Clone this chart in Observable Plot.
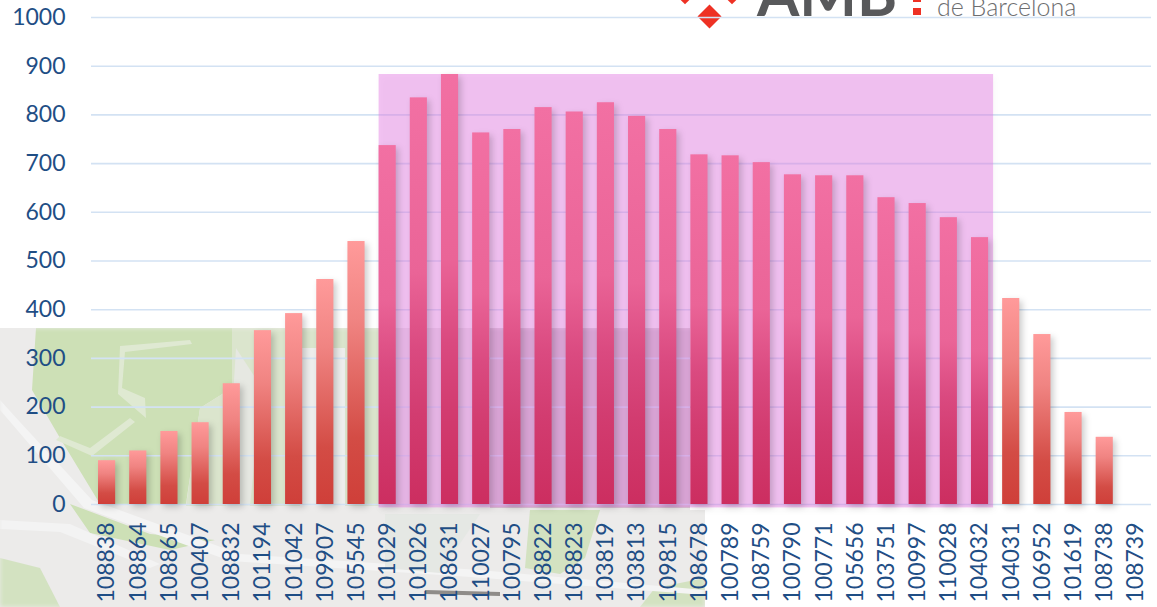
<!DOCTYPE html>
<html>
<head>
<meta charset="utf-8">
<script src="https://cdn.jsdelivr.net/npm/d3@7"></script>
<script src="https://cdn.jsdelivr.net/npm/@observablehq/plot@0.6"></script>
<style>
html,body{margin:0;padding:0;background:#fff;width:1157px;height:607px;overflow:hidden}
#map{position:absolute;left:0;top:328px;width:705px;height:279px;background:#ecebea;overflow:hidden;
  clip-path:polygon(0 0,690px 0,690px 182px,705px 182px,705px 279px,0 279px)}
#map div{position:absolute;inset:0;filter:blur(2px)}
#logo{position:absolute;left:0;top:0;width:1157px;height:40px;overflow:hidden}
#logo span{position:absolute;white-space:nowrap;line-height:1}
#logo i{position:absolute;display:block;background:#ee3124;transform:rotate(45deg)}
#chart{position:absolute;left:0;top:0}
svg{background:transparent!important;display:block}
</style>
</head>
<body>
<div id="map">
  <div style="background:#cde0b6;clip-path:polygon(36px 0,232px 0,232px 60px,200px 80px,186px 176px,100px 176px,60px 110px,32px 62px)"></div>
  <div style="background:#dbe5cd;clip-path:polygon(232px 0,380px 0,380px 178px,186px 178px,200px 80px,232px 60px)"></div>
  <div style="background:#dfe9d2;clip-path:polygon(120px 18px,190px 12px,192px 16px,125px 24px,122px 60px,145px 70px,146px 90px,118px 66px)"></div>
  <div style="background:#dfe9d2;clip-path:polygon(60px 108px,90px 120px,130px 90px,135px 94px,92px 128px,56px 112px)"></div>
  <div style="background:#e6e8e2;clip-path:polygon(236px 20px,262px 60px,250px 178px,226px 178px)"></div>
  <div style="background:#eeeeed;clip-path:polygon(300px 20px,345px 20px,345px 178px,300px 178px)"></div>
  <div style="background:#d3cacc;clip-path:polygon(490px 0,690px 0,690px 180px,490px 180px)"></div>
  <div style="background:#d3e2c1;clip-path:polygon(530px 182px,600px 182px,585px 230px,560px 246px,525px 240px)"></div>
  <div style="background:#d3e2c1;clip-path:polygon(655px 260px,705px 250px,705px 279px,640px 279px)"></div>
  <div style="background:#d3e2c1;clip-path:polygon(0 230px,40px 240px,60px 279px,0 279px)"></div>
  <div style="background:#cde0b6;clip-path:polygon(70px 176px,150px 206px,215px 212px,170px 222px,90px 205px)"></div>
  <div style="background:#f4f4f4;clip-path:polygon(0 72px,20px 94px,92px 172px,240px 226px,480px 242px,705px 262px,705px 267px,470px 249px,230px 233px,84px 180px,0 82px)"></div>
  <div style="background:#f3f3f3;clip-path:polygon(0 192px,70px 196px,160px 236px,150px 240px,60px 204px,0 201px)"></div>
  <div style="background:#e5e8e4;clip-path:polygon(385px 186px,480px 186px,440px 245px,385px 240px)"></div>
  <div style="background:#8f8c89;filter:blur(.8px);clip-path:polygon(425px 262px,500px 264px,500px 268px,425px 266px)"></div>
</div>
<div id="logo">
  <i style="left:677px;top:-15px;width:16px;height:16px"></i>
  <i style="left:724px;top:-15px;width:16px;height:16px"></i>
  <i style="left:700.5px;top:7.5px;width:17px;height:17px"></i>
  <span style="left:757px;top:-44px;font:700 61px Lato;color:#58595b">AMB</span>
  <i style="left:913px;top:0;width:8px;height:2px;transform:none"></i>
  <i style="left:913px;top:8px;width:8px;height:7px;transform:none"></i>
  <span style="left:937px;top:-9px;font:300 25px Lato;color:#6d6e70">de Barcelona</span>
</div>
<div id="chart"></div>
<script>
const categories = ["108838","108864","108865","100407","108832","101194","101042","109907","105545","101029","101026","108631","110027","100795","108822","108823","103819","103813","109815","108678","100789","108759","100790","100771","105656","103751","100997","110028","104032","104031","106952","101619","108738","108739"];
const values = [90,110,150,168,248,357,392,462,540,737,835,883,763,770,815,806,825,797,770,718,716,702,677,675,675,630,618,589,548,423,349,189,138,0];
const highlighted = categories.slice(categories.indexOf("101029"), categories.indexOf("104032") + 1);
const yTicks = d3.range(0, 1001, 100);

const data = categories.map((c, i) => ({c, v: values[i]}));
const inBand = d => highlighted.includes(d.c);
const textColor = "#1f4e85";

const gradients = () => {
  const defs = d3.create("svg:g");
  const d = defs.append("defs");
  const add = (id, stops) => {
    const g = d.append("linearGradient").attr("id", id).attr("x1", 0).attr("x2", 0).attr("y1", 0).attr("y2", 1);
    stops.forEach(([o, col]) => g.append("stop").attr("offset", o).attr("stop-color", col));
  };
  add("barNormal", [[0, "#ff9a9a"], [0.3, "#f08482"], [0.75, "#d34c45"], [1, "#cf3f39"]]);
  add("barBand", [[0, "#f270a3"], [0.43, "#ea6497"], [0.62, "#da4a80"], [0.78, "#d23c70"], [1, "#cc2e60"]]);
  return defs.node();
};

const chart = Plot.plot({
  width: 1157,
  height: 607,
  marginTop: 17,
  marginBottom: 103,
  marginLeft: 91,
  marginRight: 6,
  style: {fontFamily: "Lato", background: "transparent"},
  x: {type: "band", domain: categories, paddingInner: 0.45, paddingOuter: 0.225, round: false, label: null},
  y: {domain: [0, 1000], label: null},
  marks: [
    gradients,
    Plot.ruleY(yTicks, {stroke: "#d3e2f3", strokeWidth: 1.6}),
    Plot.rect([{a: highlighted[0], b: highlighted[highlighted.length - 1]}], {
      x1: "a", x2: "b", y1: () => -7, y2: () => d3.max(values),
      fill: "#e27ae2", fillOpacity: 0.46, insetRight: -5,
      imageFilter: "drop-shadow(2px 3px 3px rgba(0,0,0,.06))"
    }),
    Plot.barY(data.filter(d => !inBand(d) && d.v > 0), {
      x: "c", y: "v", fill: "url(#barNormal)",
      imageFilter: "drop-shadow(3px 3px 3px rgba(0,0,0,.2))"
    }),
    Plot.barY(data.filter(inBand), {
      x: "c", y: "v", fill: "url(#barBand)",
      imageFilter: "drop-shadow(3px 3px 3px rgba(0,0,0,.18))"
    }),
    Plot.axisY({ticks: yTicks, tickFormat: d => String(d), tickSize: 0, tickPadding: 26, fontSize: 23, color: textColor, label: null}),
    Plot.axisX({tickSize: 0, tickPadding: 18, tickRotate: -90, fontSize: 23, color: textColor, label: null})
  ]
});
document.getElementById("chart").appendChild(chart);
</script>
</body>
</html>
